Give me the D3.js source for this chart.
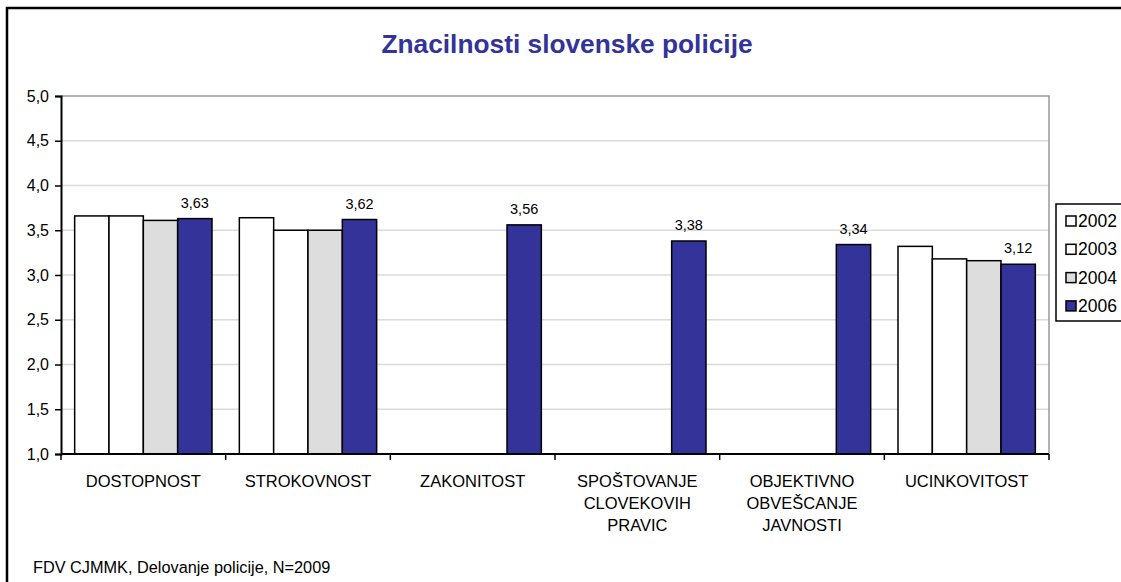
<!DOCTYPE html>
<html>
<head>
<meta charset="utf-8">
<script src="https://cdn.jsdelivr.net/npm/d3@7"></script>
<style>
  html, body { margin: 0; background: #fff; overflow: hidden; }
  svg { display: block; }
  text { font-family: "Liberation Sans", Arial, sans-serif; }
</style>
</head>
<body>
<div id="chart"></div>
<script>
// data
const categories = ["DOSTOPNOST", "STROKOVNOST", "ZAKONITOST", "SPOSTOVANJE", "OBJEKTIVNO", "UCINKOVITOST"];
const categoryLabels = [
    ["DOSTOPNOST"],
    ["STROKOVNOST"],
    ["ZAKONITOST"],
    ["SPOŠTOVANJE", "CLOVEKOVIH", "PRAVIC"],
    ["OBJEKTIVNO", "OBVEŠCANJE", "JAVNOSTI"],
    ["UCINKOVITOST"]
];
const years = ["2002", "2003", "2004", "2006"];
const v2002 = [3.66, 3.64, null, null, null, 3.32];
const v2003 = [3.66, 3.50, null, null, null, 3.18];
const v2004 = [3.61, 3.50, null, null, null, 3.16];
const v2006 = [3.63, 3.62, 3.56, 3.38, 3.34, 3.12];
const yTicks = [1.0, 1.5, 2.0, 2.5, 3.0, 3.5, 4.0, 4.5, 5.0];
const yearColors = ["#ffffff", "#ffffff", "#dddddd", "#333399"];

const series = [v2002, v2003, v2004, v2006];

const width = 1121, height = 582;
const plot = { left: 61, right: 1049, top: 96, bottom: 454 };

const svg = d3.select("#chart").append("svg")
    .attr("width", width)
    .attr("height", height);

// chart frame (runs off the picture on the right and bottom)
svg.append("rect")
    .attr("x", 7).attr("y", 8)
    .attr("width", 1200).attr("height", 650)
    .attr("fill", "#fff")
    .attr("stroke", "#000")
    .attr("stroke-width", 2.5);

svg.append("text")
    .attr("x", 567).attr("y", 53)
    .attr("text-anchor", "middle")
    .attr("font-size", 26.3)
    .attr("font-weight", "bold")
    .attr("fill", "#333399")
    .text("Znacilnosti slovenske policije");

const x0 = d3.scaleBand().domain(categories).range([plot.left, plot.right]);
const bw = x0.bandwidth();
const pad = bw * 0.083;
const x1 = d3.scaleBand().domain(years).range([pad, bw - pad]);
const y = d3.scaleLinear().domain([1, 5]).range([plot.bottom, plot.top]);

const comma = d3.formatLocale({ decimal: ",", thousands: ".", grouping: [3], currency: ["", ""] });
const fmt1 = comma.format(".1f");
const fmt2 = comma.format(".2f");

// gridlines
svg.append("g").selectAll("line")
    .data(yTicks.slice(1, -1))
    .enter().append("line")
    .attr("x1", plot.left).attr("x2", plot.right)
    .attr("y1", d => y(d)).attr("y2", d => y(d))
    .attr("stroke", "#dadada")
    .attr("stroke-width", 1.5);

// plot area border top/right
svg.append("path")
    .attr("d", `M${plot.left},${y(5)}H${plot.right}V${plot.bottom}`)
    .attr("fill", "none")
    .attr("stroke", "#999")
    .attr("stroke-width", 1.5);

// bars
const groups = svg.append("g").selectAll("g")
    .data(categories)
    .enter().append("g")
    .attr("transform", d => `translate(${x0(d)},0)`);

groups.selectAll("rect")
    .data((d, i) => years.map((yr, j) => ({ year: yr, j: j, value: series[j][i] })).filter(e => e.value != null))
    .enter().append("rect")
    .attr("x", d => x1(d.year))
    .attr("width", x1.bandwidth())
    .attr("y", d => y(d.value))
    .attr("height", d => y(1) - y(d.value))
    .attr("fill", d => yearColors[d.j])
    .attr("stroke", "#000")
    .attr("stroke-width", 1.5);

// data labels for 2006
svg.append("g").selectAll("text")
    .data(v2006)
    .enter().append("text")
    .attr("x", (d, i) => x0(categories[i]) + x1("2006") + x1.bandwidth() / 2)
    .attr("y", d => y(d) - 11)
    .attr("text-anchor", "middle")
    .attr("font-size", 14.5)
    .text(d => fmt2(d));

// y axis
const yAxis = svg.append("g")
    .attr("transform", `translate(${plot.left},0)`)
    .call(d3.axisLeft(y).tickValues(yTicks).tickFormat(fmt1).tickSize(6).tickPadding(6));
yAxis.select(".domain").attr("stroke", "#000").attr("stroke-width", 2);
yAxis.selectAll(".tick line").attr("stroke", "#000").attr("stroke-width", 1.5);
yAxis.selectAll(".tick text").attr("font-size", 16).attr("fill", "#000")
    .style("font-family", "'Liberation Sans', Arial, sans-serif");

// x axis with ticks on band boundaries
svg.append("line")
    .attr("x1", plot.left).attr("x2", plot.right)
    .attr("y1", plot.bottom).attr("y2", plot.bottom)
    .attr("stroke", "#000").attr("stroke-width", 2);
svg.append("g").selectAll("line")
    .data(categories.map(c => x0(c)).concat([plot.right]))
    .enter().append("line")
    .attr("x1", d => d).attr("x2", d => d)
    .attr("y1", plot.bottom).attr("y2", plot.bottom + 6)
    .attr("stroke", "#000").attr("stroke-width", 1.5);

const catText = svg.append("g").selectAll("text")
    .data(categoryLabels)
    .enter().append("text")
    .attr("x", (d, i) => x0(categories[i]) + bw / 2)
    .attr("y", 487)
    .attr("text-anchor", "middle")
    .attr("font-size", 16.5);
catText.selectAll("tspan")
    .data(d => d)
    .enter().append("tspan")
    .attr("x", function() { return this.parentNode.getAttribute("x"); })
    .attr("dy", (d, i) => i === 0 ? 0 : 22)
    .text(d => d);

// legend
const legend = svg.append("g");
legend.append("rect")
    .attr("x", 1056).attr("y", 204)
    .attr("width", 100).attr("height", 117)
    .attr("fill", "#fff")
    .attr("stroke", "#000")
    .attr("stroke-width", 1.5);
const items = legend.selectAll("g.item")
    .data(years)
    .enter().append("g")
    .attr("class", "item")
    .attr("transform", (d, i) => `translate(1066,${221 + i * 28.3})`);
items.append("rect")
    .attr("x", 0).attr("y", -5)
    .attr("width", 10).attr("height", 10)
    .attr("fill", (d, i) => yearColors[i])
    .attr("stroke", "#000")
    .attr("stroke-width", 1.5);
items.append("text")
    .attr("x", 12).attr("y", 6)
    .attr("font-size", 17.5)
    .text(d => d);

// source note
svg.append("text")
    .attr("x", 33).attr("y", 573)
    .attr("font-size", 16.3)
    .text("FDV CJMMK, Delovanje policije, N=2009");
</script>
</body>
</html>
